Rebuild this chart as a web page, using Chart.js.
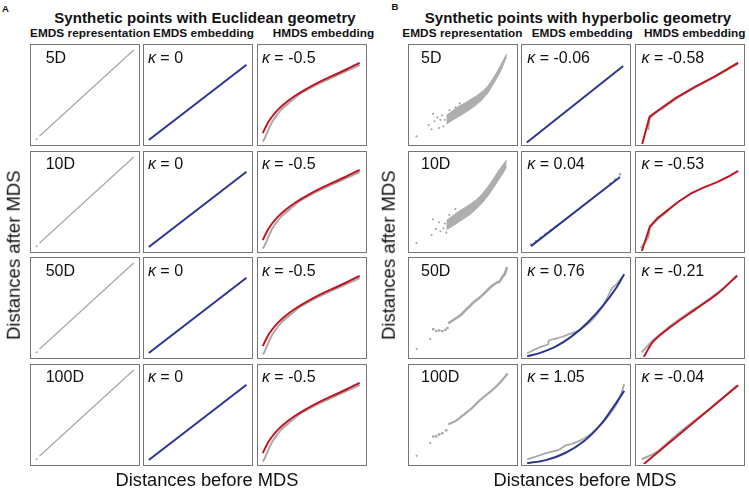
<!DOCTYPE html>
<html>
<head>
<meta charset="utf-8">
<script src="https://cdn.jsdelivr.net/npm/chart.js@4"></script>
<style>
  html, body { margin: 0; padding: 0; background: #fff; }
  body { width: 749px; height: 488px; position: relative; overflow: hidden; font-family: "Liberation Sans", Arial, sans-serif; color: #111; }
  .t { position: absolute; white-space: nowrap; line-height: 1; }
  .panel { position: absolute; width: 110px; height: 102px; box-sizing: border-box; border: 1.5px solid #767676; }
  .panel canvas { position: absolute; left: 0; top: 0; }
  .lab { position: absolute; font-size: 16px; line-height: 1; white-space: nowrap; }
</style>
</head>
<body>
<script>
const GRAY = '#a9a9a9', BLUE = '#2b3590', RED = '#c0161f';

const dims = ['5D', '10D', '50D', '100D'];
const aEmdsK = ['0', '0', '0', '0'];
const aHmdsK = ['-0.5', '-0.5', '-0.5', '-0.5'];
const bEmdsK = ['-0.06', '0.04', '0.76', '1.05'];
const bHmdsK = ['-0.58', '-0.53', '-0.21', '-0.04'];

// Euclidean set (same look in every row), values in % of the panel
const aDiagDash = [[4.5, 4], [6, 5.5]];
const aDiag = [[8, 8], [96, 95]];
const aEmbed = [[4.5, 4], [95.8, 80]];
const aHypRed = [[4.5, 11], [8, 19], [12, 26], [18, 34], [25, 41], [35, 49], [45, 55.5], [57, 62.5], [69, 68.5], [82, 75], [95, 82]];
const aHypGray = [[4.5, 2.5], [6, 5], [8, 10], [10, 15], [13, 22], [17, 28.5], [22, 35], [30, 42.5], [40, 51], [55, 60], [70, 67.5], [83, 73.8], [95, 79.8]];

// Hyperbolic set, row 1 (5D)
const b1CloudX = [33.7, 39.8, 45.8, 51.8, 57.8, 64, 70, 76, 82, 88, 94.6];
const b1CloudHi = [27, 32, 36.9, 40.2, 44.4, 48.4, 53.3, 59.8, 69.6, 81, 94.8];
const b1CloudLo = [17.3, 21.6, 25.5, 29.4, 33.7, 38.6, 44.4, 52.3, 63, 74.5, 91.5];
const b1Out = [[20.2, 28.8], [21.7, 20.6], [27.7, 22.2], [18.7, 11.8], [26.2, 13.1], [30.7, 15], [36.7, 32.7], [35.2, 26.1], [41.3, 31.4], [42.8, 35.9], [47.3, 40.2], [50.3, 36.9], [24.7, 24.8], [32.2, 22.2], [3.6, 3.9], [15.7, 16.3], [29.2, 27.1]];
const b1Emds = [[4.5, 1.6], [94.6, 78.8]];
const b1Hmds = [[5.8, 0], [12.7, 27.7], [21.8, 34.9], [37, 46.3], [55, 57.7], [73.3, 68.1], [95.5, 82.1]];
const b1HmdsGray = [[11.5, 14], [12.5, 24], [15, 28.5], [19, 32], [25, 36], [32, 41.5], [40, 47.5], [55, 57], [75, 68.5], [95.5, 81.3]];

// row 2 (10D)
const b2CloudX = [33.7, 39.8, 45.8, 51.8, 57.8, 64, 70, 76, 82, 88, 94.6];
const b2CloudHi = [29, 34, 38.9, 42.8, 47.1, 52, 58.5, 66.7, 76.5, 86.3, 95.8];
const b2CloudLo = [19, 22.9, 27.1, 31.4, 35.9, 41.8, 48.4, 56.5, 66.3, 76.1, 87.6];
const b2Out = [[20.2, 30.4], [26.2, 27.1], [23.2, 19.6], [18.7, 13.1], [27.7, 17.3], [30.7, 20.6], [33.7, 15.7], [36.7, 35.3], [38.3, 28.8], [42.8, 41.8], [45.8, 33.7], [35.2, 22.9], [3.6, 4.2], [32.2, 25.8]];
const b2Emds = [[5, 1], [95, 77]];
const b2EmdsGray = [[5, 2.8], [10, 6.5], [15, 10.5], [20, 14.5], [25, 18.5], [30, 22.5], [85, 69.5], [90, 74], [95, 80]];
const b2Hmds = [[5.5, 0], [13, 24.8], [20, 33], [30.3, 41.8], [40, 50], [51.5, 58.2], [63, 64], [75.8, 69.6], [86, 75], [95.5, 81]];
const b2HmdsGray = [[4.5, 3], [11.5, 14], [13, 23.5], [16, 27.5], [20, 31.8], [25, 36.5], [30, 40.5]];

// row 3 (50D)
const b3Out = [[3.7, 4.6], [17.4, 15.3]];
const b3Flat = [[20.4, 26.1], [23.5, 24.1], [26.5, 24.8], [29.6, 24.1], [32.6, 25.4], [34.8, 27.4]];
const b3Band = [[35.7, 32.6], [38.7, 34.9], [43.3, 38.1], [47.9, 41.4], [52.4, 46.3], [57, 51.1], [61.6, 56], [66.2, 59.9], [70.7, 64.2], [75.3, 69.1], [79.9, 73.9], [84.5, 77.2], [87.5, 78.8], [90.5, 83.7], [92.7, 87], [95.1, 94.5]];
const b3Emds = [[4.8, 0.7], [16.3, 3.9], [31.3, 10.4], [46.4, 20.8], [61.4, 34.9], [76.5, 52.8], [88.6, 70.7], [95.5, 83.7]];
const b3EmdsGray = [[4.8, 3.9], [16.3, 9.8], [24.7, 13], [24.7, 16.3], [31.3, 18.6], [37.3, 20.2], [43.4, 22.8], [49.4, 25.1], [55.4, 28.3], [61.4, 33.2], [67.5, 39.7], [73.5, 47.9], [79.5, 59.3], [84, 69.1], [88.6, 73.9], [94.6, 82.1]];
const b3Hmds = [[7.3, 0], [15.8, 15.3], [33.9, 31.6], [55.2, 47.9], [76.4, 64.2], [94.5, 82.1]];
const b3HmdsGray = [[5.2, 4.6], [15.2, 16.3], [24.8, 25], [30.9, 30.5], [40, 37.5], [49.1, 44.5], [64.2, 55.5], [82.4, 70], [94.5, 82.7]];

// row 4 (100D)
const b4Out = [[3.7, 4.6], [17.4, 18.6]];
const b4Flat = [[20.4, 25.7], [23.5, 26.1], [26.5, 28], [29.6, 29.3], [33.5, 32.6]];
const b4Band = [[35.7, 39.1], [43.3, 43], [50.9, 49.5], [58.5, 56], [67.7, 65.8], [76.8, 73.9], [86, 82.7], [95.7, 95.1]];
const b4Emds = [[4.8, 0.7], [22.3, 3.9], [40.4, 11.1], [58.4, 23.5], [73.5, 39.7], [85.5, 57.7], [95.5, 73.9]];
const b4EmdsGray = [[4.8, 4.6], [19.3, 9.8], [26.8, 12.1], [34.3, 14.3], [40.4, 18.6], [46.4, 20.2], [52.4, 22.8], [58.4, 26.1], [64.5, 30.6], [70.5, 36.5], [76.5, 43], [82.5, 51.1], [88.6, 60.9], [93.1, 72.3], [95.5, 80.5]];
const b4Hmds = [[7.3, 0], [95.5, 79.5]];
const b4HmdsGray = [[5.2, 4.6], [18.8, 11.8], [30.9, 22.8], [43, 33.8], [55.2, 44.2], [70, 56.8], [94.5, 79.2]];

const rowTops = [44, 150.5, 257, 363.5];
const aLefts = [29.5, 143, 257];
const bLefts = [407.5, 521, 634.5];

const xy = arr => arr.map(([x, y]) => ({ x, y }));
const pts = (arr, r) => ({ data: xy(arr), showLine: false, pointRadius: r || 1.1, pointBorderWidth: 0, backgroundColor: GRAY });
const line = (arr, color, w, tension) => ({ data: xy(arr), showLine: true, pointRadius: 0, borderColor: color, borderWidth: w, tension: tension || 0, fill: false });
const cloud = (xs, hi, lo) => [
  { data: xs.map((x, i) => ({ x, y: hi[i] })), showLine: true, pointRadius: 0, borderColor: '#aeaeae', borderWidth: 1, tension: 0, fill: false },
  { data: xs.map((x, i) => ({ x, y: lo[i] })), showLine: true, pointRadius: 0, borderColor: '#aeaeae', borderWidth: 1, tension: 0, fill: '-1', backgroundColor: '#aeaeae' }
];

function text(str, css) {
  const d = document.createElement('div');
  d.className = 't';
  d.innerHTML = str;
  Object.assign(d.style, css);
  document.body.appendChild(d);
  return d;
}

// datasets: listed bottom layer first
function panel(left, top, layers, label, labX) {
  const div = document.createElement('div');
  div.className = 'panel';
  div.style.left = left + 'px';
  div.style.top = top + 'px';
  const cv = document.createElement('canvas');
  cv.width = 107; cv.height = 99;
  div.appendChild(cv);
  const lab = document.createElement('div');
  lab.className = 'lab';
  lab.innerHTML = label;
  lab.style.left = (labX - 1.5) + 'px';
  lab.style.top = (6.1 - 1.5) + 'px';
  div.appendChild(lab);
  document.body.appendChild(div);
  const datasets = layers.map((d, i) => Object.assign(d, { order: layers.length - i }));
  new Chart(cv, {
    type: 'scatter',
    data: { datasets },
    options: {
      responsive: false,
      animation: false,
      events: [],
      layout: { padding: 0 },
      plugins: { legend: { display: false }, tooltip: { enabled: false } },
      scales: {
        x: { type: 'linear', min: 0, max: 100, display: false },
        y: { type: 'linear', min: 0, max: 100, display: false }
      }
    }
  });
}

const K = v => '<i>κ</i> = ' + v;

// Euclidean block
for (let r = 0; r < 4; r++) {
  panel(aLefts[0], rowTops[r], [line(aDiagDash, GRAY, 1.3), line(aDiag, GRAY, 1.3)], dims[r], 16.7);
  panel(aLefts[1], rowTops[r], [line(aEmbed, BLUE, 2)], K(aEmdsK[r]), 5.4);
  panel(aLefts[2], rowTops[r], [line(aHypGray, GRAY, 2, 0.3), line(aHypRed, RED, 2, 0.35)], K(aHmdsK[r]), 5.4);
}

// Hyperbolic block
const bCol1 = [
  [...cloud(b1CloudX, b1CloudHi, b1CloudLo), pts(b1Out)],
  [...cloud(b2CloudX, b2CloudHi, b2CloudLo), pts(b2Out)],
  [pts(b3Out), pts(b3Flat, 1.4), line(b3Band, GRAY, 2.6, 0.2)],
  [pts(b4Out), pts(b4Flat, 1.4), line(b4Band, GRAY, 2.2, 0.2)]
];
const bCol2 = [
  [line(b1Emds, BLUE, 2)],
  [pts(b2EmdsGray, 1.3), line(b2Emds, BLUE, 2)],
  [line(b3EmdsGray, GRAY, 1.8, 0.2), line(b3Emds, BLUE, 2, 0.35)],
  [line(b4EmdsGray, GRAY, 1.8, 0.2), line(b4Emds, BLUE, 2, 0.35)]
];
const bCol3 = [
  [line(b1HmdsGray, GRAY, 2, 0.2), line(b1Hmds, RED, 2)],
  [line(b2HmdsGray, GRAY, 2, 0.2), line(b2Hmds, RED, 2)],
  [line(b3HmdsGray, GRAY, 2, 0.2), line(b3Hmds, RED, 2, 0.3)],
  [line(b4HmdsGray, GRAY, 2, 0.2), line(b4Hmds, RED, 2)]
];
for (let r = 0; r < 4; r++) {
  panel(bLefts[0], rowTops[r], bCol1[r], dims[r], 14);
  panel(bLefts[1], rowTops[r], bCol2[r], K(bEmdsK[r]), 6.8);
  panel(bLefts[2], rowTops[r], bCol3[r], K(bHmdsK[r]), 7.5);
}

// titles and labels
text('A', { left: '2px', top: '3.8px', fontSize: '9.5px', fontWeight: 'bold' });
text('B', { left: '391.5px', top: '2.2px', fontSize: '9.5px', fontWeight: 'bold' });
const titleCss = { width: '420px', textAlign: 'center', top: '10px', fontSize: '15px', fontWeight: 'bold', letterSpacing: '0.1px' };
text('Synthetic points with Euclidean geometry', Object.assign({ left: (205 - 210) + 'px' }, titleCss));
text('Synthetic points with hyperbolic geometry', Object.assign({ left: (578 - 210) + 'px' }, titleCss));
const heads = ['EMDS representation', 'EMDS embedding', 'HMDS embedding'];
const aHeadX = [30, 153, 272.7], bHeadX = [402.3, 531.7, 644];
heads.forEach((h, i) => {
  const css = { top: '28px', fontSize: '11.8px', fontWeight: 'bold', letterSpacing: '0.05px' };
  text(h, Object.assign({ left: aHeadX[i] + 'px' }, css));
  text(h, Object.assign({ left: bHeadX[i] + 'px' }, css));
});
text('Distances before MDS', { left: '7px', width: '400px', textAlign: 'center', top: '470.6px', fontSize: '18.3px' });
text('Distances before MDS', { left: '385px', width: '400px', textAlign: 'center', top: '470.6px', fontSize: '18.3px' });
text('Distances after MDS', { left: (14.2 - 130) + 'px', width: '260px', textAlign: 'center', top: (255 - 9.25) + 'px', fontSize: '18.5px', transform: 'rotate(-90deg)' });
text('Distances after MDS', { left: (389.2 - 130) + 'px', width: '260px', textAlign: 'center', top: (255 - 9.25) + 'px', fontSize: '18.5px', transform: 'rotate(-90deg)' });
</script>
</body>
</html>
